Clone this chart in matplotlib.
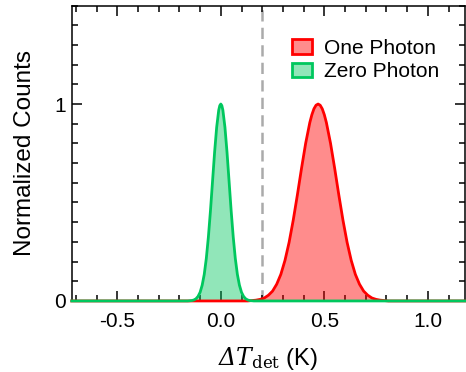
"""Zero/one photon detector temperature histograms (normalized)."""
import matplotlib
matplotlib.use("Agg")
import matplotlib.pyplot as plt
from matplotlib.patches import Patch
from matplotlib.ticker import MultipleLocator, FormatStrFormatter

plt.rcParams["font.family"] = ["Liberation Sans", "DejaVu Sans"]
# mathtext forces capital Greek upright, so make "rm" italic and use sf for "det"
plt.rcParams["mathtext.fontset"] = "custom"
plt.rcParams["mathtext.rm"] = "DejaVu Serif:italic"
plt.rcParams["mathtext.it"] = "DejaVu Serif:italic"
plt.rcParams["mathtext.sf"] = "DejaVu Serif"

zero_x = [-0.72, -0.16, -0.15, -0.14, -0.13, -0.12, -0.11, -0.10, -0.09, -0.08,
          -0.07, -0.06, -0.05, -0.04, -0.03, -0.02, -0.01, -0.005, 0.00, 0.005,
          0.01, 0.02, 0.03, 0.04, 0.05, 0.06, 0.07, 0.08, 0.09, 0.10, 0.11,
          0.12, 0.13, 0.14, 0.15, 0.16, 1.18]
zero_y = [0.0, 0.0, 0.001, 0.002, 0.005, 0.011, 0.023, 0.044, 0.080, 0.135,
          0.216, 0.325, 0.458, 0.607, 0.755, 0.882, 0.969, 0.992, 1.0, 0.992,
          0.969, 0.882, 0.755, 0.607, 0.458, 0.325, 0.216, 0.135, 0.080, 0.044,
          0.023, 0.011, 0.005, 0.002, 0.001, 0.0, 0.0]

one_x = [-0.72, 0.13, 0.15, 0.17, 0.19, 0.21, 0.23, 0.25, 0.27, 0.29, 0.31,
         0.33, 0.35, 0.37, 0.39, 0.41, 0.43, 0.44, 0.45, 0.46, 0.47, 0.48,
         0.49, 0.50, 0.51, 0.53, 0.55, 0.57, 0.59, 0.61, 0.63, 0.65, 0.67,
         0.69, 0.71, 0.73, 0.75, 0.77, 0.79, 0.81, 1.18]
one_y = [0.0, 0.0, 0.002, 0.004, 0.008, 0.015, 0.029, 0.050, 0.085, 0.135,
         0.206, 0.298, 0.411, 0.539, 0.674, 0.801, 0.906, 0.946, 0.976, 0.994,
         1.0, 0.994, 0.976, 0.946, 0.906, 0.801, 0.674, 0.539, 0.411, 0.298,
         0.206, 0.135, 0.085, 0.050, 0.029, 0.015, 0.008, 0.004, 0.002, 0.0,
         0.0]

threshold = 0.2

RED = "#ff0000"
GREEN = "#00c75e"

fig = plt.figure(figsize=(4.66, 3.72), dpi=100)
ax = fig.add_axes([0.154, 0.191, 0.844, 0.794])

ax.axvline(threshold, color="#aaaaaa", lw=1.8, ls=(0, (4.5, 2.5)), zorder=1)

ax.fill_between(one_x, one_y, 0, color=RED, alpha=0.45, lw=0, zorder=2)
ax.plot(one_x, one_y, color=RED, lw=2, zorder=3, clip_on=False)
ax.fill_between(zero_x, zero_y, 0, color=GREEN, alpha=0.43, lw=0, zorder=2)
ax.plot(zero_x, zero_y, color=GREEN, lw=2, zorder=4, clip_on=False)

ax.set_xlim(-0.72, 1.18)
ax.set_ylim(0, 1.5)
ax.xaxis.set_major_locator(MultipleLocator(0.5))
ax.xaxis.set_minor_locator(MultipleLocator(0.1))
ax.xaxis.set_major_formatter(FormatStrFormatter("%.1f"))
ax.set_yticks([0, 1])
ax.set_yticklabels(["0", "1"])
ax.yaxis.set_minor_locator(MultipleLocator(0.1))
ax.tick_params(which="both", direction="in", top=True, right=True,
               width=1.1, labelsize=15)
ax.tick_params(axis="x", pad=8)
ax.tick_params(axis="y", pad=4)
ax.tick_params(which="major", length=7)
ax.tick_params(which="minor", length=4.3)
for sp in ax.spines.values():
    sp.set_linewidth(1.1)

ax.set_ylabel("Normalized Counts", fontsize=17.5, labelpad=13)
ax.set_xlabel(r"$\Delta T_{\mathsf{det}}$ (K)", fontsize=17, labelpad=10)

handles = [
    Patch(facecolor=(1, 0, 0, 0.45), edgecolor=RED, lw=2, label="One Photon"),
    Patch(facecolor=(0, 0.78, 0.37, 0.43), edgecolor=GREEN, lw=2, label="Zero Photon"),
]
ax.legend(handles=handles, loc="upper left", bbox_to_anchor=(0.54, 0.915),
          frameon=False, fontsize=15, handlelength=0.95, handleheight=0.7,
          handletextpad=0.55, labelspacing=0.2, borderaxespad=0)

fig.savefig("out.png", dpi=100)
